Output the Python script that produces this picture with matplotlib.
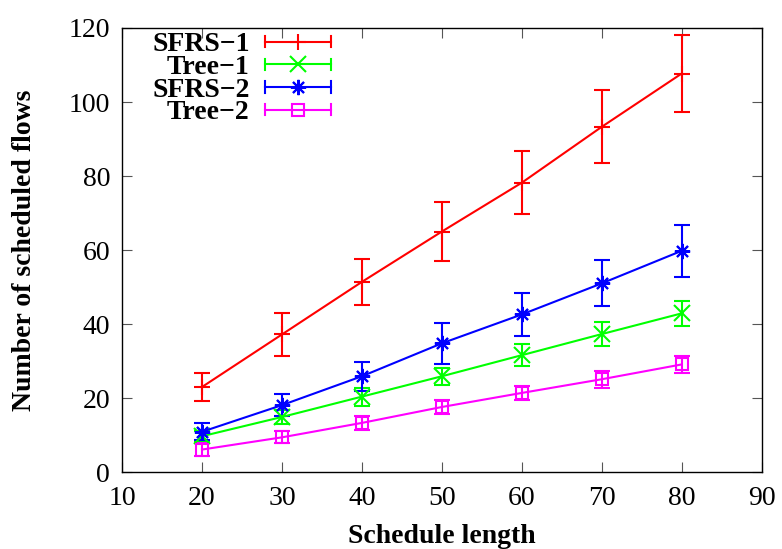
import matplotlib
matplotlib.use("Agg")
import matplotlib.pyplot as plt
from matplotlib.lines import Line2D
from matplotlib.legend_handler import HandlerLine2D

# ── Data ──────────────────────────────────────────────────────────────────
schedule_length = [20, 30, 40, 50, 60, 70, 80]

sfrs1_mean = [23.0, 37.2, 51.4, 65.0, 78.2, 93.3, 107.7]
sfrs1_err  = [3.9, 5.8, 6.3, 7.9, 8.5, 9.9, 10.3]

tree1_mean = [9.7, 14.9, 20.4, 25.9, 31.6, 37.3, 42.9]
tree1_err  = [1.3, 1.8, 2.4, 2.3, 3.0, 3.2, 3.4]

sfrs2_mean = [10.9, 18.1, 25.9, 34.8, 42.6, 51.0, 59.8]
sfrs2_err  = [2.3, 2.9, 3.9, 5.5, 5.7, 6.2, 7.0]

tree2_mean = [6.1, 9.4, 13.3, 17.6, 21.4, 25.1, 29.1]
tree2_err  = [1.8, 1.6, 1.8, 2.0, 2.0, 2.3, 2.3]

series_labels = ["SFRS\u22121", "Tree\u22121", "SFRS\u22122", "Tree\u22122"]
series_colors = ["#ff0000", "#00ff00", "#0000ff", "#ff00ff"]
series_markers = ["+", "x", (8, 2, 0), "s"]

x_ticks = [10, 20, 30, 40, 50, 60, 70, 80, 90]
y_ticks = [0, 20, 40, 60, 80, 100, 120]

plt.rcParams["font.family"] = ["Liberation Serif", "DejaVu Serif"]
FS = 20


class CapHandler(HandlerLine2D):
    """Legend sample drawn as a horizontal error bar with end caps."""
    def create_artists(self, legend, orig_handle, xdescent, ydescent,
                       width, height, fontsize, trans):
        artists = super().create_artists(legend, orig_handle, xdescent, ydescent,
                                         width, height, fontsize, trans)
        y = height / 2 - ydescent
        half = 0.2 * fontsize
        for x in (-xdescent, width - xdescent):
            cap = Line2D([x, x], [y - half, y + half],
                         color=orig_handle.get_color(),
                         linewidth=orig_handle.get_linewidth())
            cap.set_transform(trans)
            artists.append(cap)
        return artists


# ── Figure ─────────────────────────────────────────────────────────────────
fig = plt.figure(figsize=(7.82, 5.49), dpi=100)
ax = fig.add_axes([0.156, 0.140, 0.818, 0.809])

means = [sfrs1_mean, tree1_mean, sfrs2_mean, tree2_mean]
errs = [sfrs1_err, tree1_err, sfrs2_err, tree2_err]

handles = []
for mean, err, label, color, marker in zip(means, errs, series_labels,
                                           series_colors, series_markers):
    msize = 9 if marker == "s" else 11
    ax.errorbar(schedule_length, mean, yerr=err, color=color, linewidth=1.5,
                elinewidth=1.5, capsize=6, capthick=1.5, marker=marker,
                markersize=msize, markeredgewidth=1.5, markerfacecolor="none",
                markeredgecolor=color)
    handles.append(Line2D([], [], color=color, linewidth=1.5, marker=marker,
                          markersize=msize, markeredgewidth=1.5,
                          markerfacecolor="none", label=label))

ax.set_xlim(10, 90)
ax.set_ylim(0, 120)
ax.set_xticks(x_ticks)
ax.set_yticks(y_ticks)
ax.tick_params(direction="in", length=7, width=0.8, top=True, right=True,
               labelsize=FS, color="#555555")
ax.tick_params(axis="x", pad=10)
ax.tick_params(axis="y", pad=8.5)
for spine in ax.spines.values():
    spine.set_linewidth(1.0)

ax.set_xlabel("Schedule length", fontsize=FS, fontweight="bold", labelpad=9)
ax.set_ylabel("Number of scheduled flows", fontsize=FS, fontweight="bold", labelpad=23)

leg = ax.legend(handles=handles, loc="upper left", bbox_to_anchor=(0.047, 0.991),
                frameon=False, markerfirst=False, numpoints=1,
                handlelength=2.4, handletextpad=0.54, labelspacing=-0.1,
                borderaxespad=0.0, borderpad=0.0,
                prop={"size": FS, "weight": "bold"},
                handler_map={Line2D: CapHandler()})

fig.savefig("out.png", dpi=100)
